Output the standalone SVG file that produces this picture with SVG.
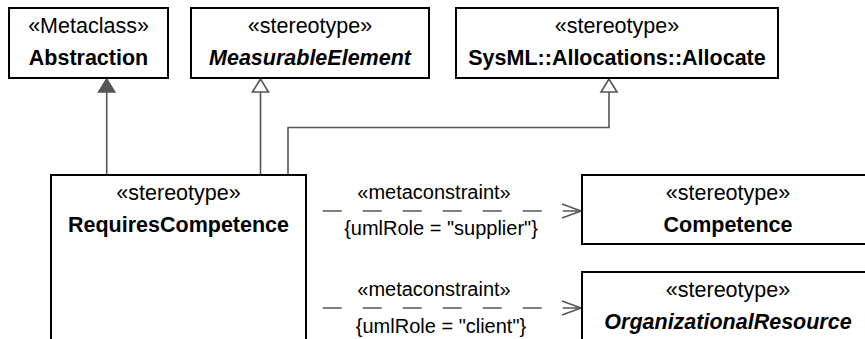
<svg xmlns="http://www.w3.org/2000/svg" width="865" height="339" viewBox="0 0 865 339">
<style>
.box{fill:#fff;stroke:#000;stroke-width:2}
.t{font-family:"Liberation Sans",Arial,sans-serif;font-size:21.5px;fill:#000;text-anchor:middle}
.b{font-weight:bold}
.i{font-style:italic}
.l{font-family:"Liberation Sans",Arial,sans-serif;font-size:20px;fill:#000;text-anchor:middle}
.c{fill:none;stroke:#555;stroke-width:1.6}
.d{fill:none;stroke:#555;stroke-width:1.6;stroke-dasharray:19 21;stroke-dashoffset:23.3}
.h{fill:#fff;stroke:#555;stroke-width:1.6}
.f{fill:#555;stroke:#555;stroke-width:1.6}
</style>
<rect width="865" height="339" fill="#fff"/>
<g id="connectors">
<path class="c" d="M106.7,175V92"/>
<path class="f" d="M106.7,79L98.7,92H114.7Z"/>
<path class="c" d="M260.5,175V92"/>
<path class="h" d="M260.5,79L252.5,92H268.5Z"/>
<path class="c" d="M288,175V127.5H609V92"/>
<path class="h" d="M609,79L601,92H617Z"/>
<path class="d" d="M306,211H580"/>
<path class="c" d="M562,204L581,211L562,218"/>
<text class="l" x="434" y="199">«metaconstraint»</text>
<text class="l" x="441" y="235">{umlRole = "supplier"}</text>
<path class="d" d="M306,308H580"/>
<path class="c" d="M562,301L581,308L562,315"/>
<text class="l" x="434" y="296">«metaconstraint»</text>
<text class="l" x="441" y="333">{umlRole = "client"}</text>
</g>
<g id="abstraction">
<rect class="box" x="9" y="8" width="159" height="70"/>
<text class="t" x="88.5" y="33">«Metaclass»</text>
<text class="t b" x="88.5" y="65">Abstraction</text>
</g>
<g id="measurableElement">
<rect class="box" x="191" y="8" width="238" height="70"/>
<text class="t" x="310" y="33">«stereotype»</text>
<text class="t b i" x="310" y="65">MeasurableElement</text>
</g>
<g id="allocate">
<rect class="box" x="456" y="8" width="322" height="70"/>
<text class="t" x="617" y="33">«stereotype»</text>
<text class="t b" x="617" y="65">SysML::Allocations::Allocate</text>
</g>
<g id="requiresCompetence">
<rect class="box" x="51" y="175" width="255" height="180"/>
<text class="t" x="178.5" y="200">«stereotype»</text>
<text class="t b" x="178.5" y="232">RequiresCompetence</text>
</g>
<g id="competence">
<rect class="box" x="582" y="175" width="293" height="69"/>
<text class="t" x="728" y="200">«stereotype»</text>
<text class="t b" x="728" y="232">Competence</text>
</g>
<g id="organizationalResource">
<rect class="box" x="582" y="272" width="293" height="80"/>
<text class="t" x="728" y="297">«stereotype»</text>
<text class="t b i" x="728" y="329">OrganizationalResource</text>
</g>
</svg>
